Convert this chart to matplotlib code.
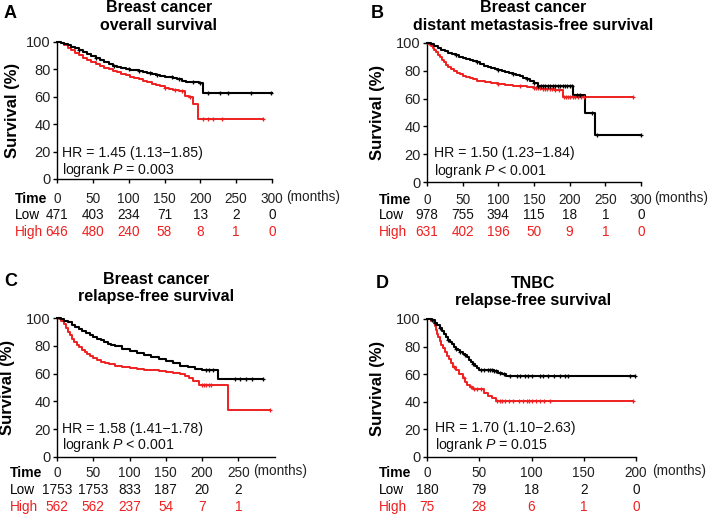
import numpy as np
import matplotlib
matplotlib.use("Agg")
import matplotlib.pyplot as plt
from matplotlib.transforms import blended_transform_factory

plt.rcParams['font.family'] = ['Liberation Sans', 'DejaVu Sans']
plt.rcParams['mathtext.fontset'] = 'custom'
plt.rcParams['mathtext.rm'] = 'Liberation Sans'
plt.rcParams['mathtext.it'] = 'Liberation Sans:italic'

RED = '#ee2020'
BLACK = '#000000'

# ---------------- Panel A: Breast cancer overall survival ----------------
a_low_t = [0, 5, 10, 15, 20, 25, 30, 36, 42, 48, 54, 60, 66, 72, 78, 84, 90, 96, 102, 108, 114,
           120, 126, 132, 138, 144, 150, 156, 162, 168, 174, 180, 186, 192, 198, 204]
a_low_s = [100, 99.6, 98.8, 97.5, 96.5, 95.4, 94.2, 92.8, 91.5, 90, 88.6, 87.2, 85.6, 84, 82.8, 81.6,
           81, 80.3, 79.6, 79.2, 78.5, 78, 77.2, 76.6, 76, 75.5, 74.8, 74.2, 73.5, 72.8, 71.5, 70.8,
           70.5, 70.5, 70.3, 62.5]
a_low_end = 300
a_low_cens = [30, 55, 80, 100, 115, 130, 140, 160, 170, 190, 200, 211, 227, 239, 271, 299]
a_high_t = [0, 5, 10, 15, 20, 25, 30, 36, 42, 48, 54, 60, 66, 72, 78, 84, 90, 96, 102, 108, 114,
            120, 126, 132, 138, 144, 150, 156, 162, 170, 178, 184, 190, 197]
a_high_s = [100, 99.2, 97.8, 95.6, 93.8, 92, 90.2, 88.5, 86.8, 85.2, 83.8, 82.6, 81.2, 80, 78.8,
            77.8, 76.8, 75.6, 74.8, 73.9, 72.8, 71.8, 70.6, 69.6, 68.4, 67.6, 66.2, 65.6, 65,
            64.5, 60.3, 60, 55, 44]
a_high_end = 287
a_high_cens = [150, 165, 175, 185, 204, 211, 218, 230, 287]
a_times = [0, 50, 100, 150, 200, 250, 300]
a_low_n = [471, 403, 234, 71, 13, 2, 0]
a_high_n = [646, 480, 240, 58, 8, 1, 0]

# ---------------- Panel B: distant metastasis-free survival ----------------
b_low_t = [0, 5, 10, 15, 20, 25, 30, 35, 40, 45, 50, 55, 60, 65, 70, 75, 80, 85, 90, 95, 100,
           105, 110, 115, 120, 125, 130, 135, 140, 145, 150, 155, 205, 222, 235]
b_low_s = [100, 99, 97.8, 96.5, 95.2, 94, 93, 92, 91.2, 90.2, 89.2, 88.4, 87.8, 87, 86, 84.8,
           83.6, 82.6, 81.8, 81.2, 80.6, 79.8, 79, 78.4, 77.6, 76.8, 76, 75, 73.8, 72.6, 71,
           69.3, 62.4, 50, 33.8]
b_low_end = 300
b_low_cens = [40, 70, 100, 120, 140, 150, 155, 160, 163, 166, 170, 173, 176, 180, 183, 186,
              190, 193, 196, 200, 203, 210, 214, 232, 238, 300]
b_high_t = [0, 2, 4, 6, 8, 10, 12, 15, 18, 21, 24, 27, 30, 34, 38, 42, 46, 50, 55, 60, 65, 70,
            76, 82, 90, 100, 110, 120, 130, 140, 150, 160, 170, 180, 191]
b_high_s = [100, 99.5, 98.8, 97.8, 96.5, 95, 93.6, 91.6, 89.6, 87.8, 86, 84.4, 83, 81.3, 79.8,
            78.6, 77.5, 76.6, 75.5, 74.6, 73.8, 73, 72.4, 71.9, 71.2, 70.4, 69.8, 69.2, 68.8,
            68.2, 67.8, 67.2, 66.8, 66.4, 61]
b_high_end = 289
b_high_cens = [100, 130, 150, 153, 156, 159, 162, 165, 168, 172, 175, 180, 185, 192, 195, 198,
               201, 204, 208, 212, 216, 220, 289]
b_times = [0, 50, 100, 150, 200, 250, 300]
b_low_n = [978, 755, 394, 115, 18, 1, 0]
b_high_n = [631, 402, 196, 50, 9, 1, 0]

# ---------------- Panel C: relapse-free survival ----------------
c_low_t = [0, 5, 10, 15, 20, 25, 30, 35, 40, 45, 50, 55, 60, 65, 70, 75, 80, 90, 100, 110, 120,
           130, 140, 150, 160, 170, 180, 190, 200, 222]
c_low_s = [100, 99.3, 98.2, 96.8, 95.3, 93.8, 92.3, 90.7, 89.2, 87.8, 86.5, 85.2, 84, 82.8, 81.6,
           80.6, 79.6, 77.8, 76.2, 74.6, 73.2, 72, 70.6, 69.2, 67.6, 65.8, 64.6, 63.3, 62.8, 56]
c_low_end = 284
c_low_cens = [205, 210, 215, 245, 252, 260, 269, 284]
c_high_t = [0, 3, 6, 9, 12, 15, 18, 21, 24, 27, 30, 34, 38, 42, 46, 50, 55, 60, 66, 72, 80, 90,
            100, 110, 120, 130, 140, 150, 160, 170, 176, 182, 188, 196, 236]
c_high_s = [100, 99, 97.5, 95.5, 93, 90.2, 87.5, 85, 82.8, 80.8, 79, 77, 75.3, 73.8, 72.4, 71,
            69.6, 68.4, 67.4, 66.6, 65.8, 65, 64.2, 63.6, 62.9, 62.3, 61.6, 60.8, 60.1, 59.4, 58,
            56.5, 55, 51.8, 33.6]
c_high_end = 294
c_high_cens = [200, 203, 206, 209, 213, 294]
c_times = [0, 50, 100, 150, 200, 250]
c_low_n = [1753, 1753, 833, 187, 20, 2]
c_high_n = [562, 562, 237, 54, 7, 1]

# ---------------- Panel D: TNBC relapse-free survival ----------------
d_low_t = [0, 5, 8, 10, 12, 14, 16, 18, 20, 22, 24, 26, 28, 30, 32, 34, 36, 38, 40, 42, 44, 46,
           48, 50, 56, 64, 68, 72, 76]
d_low_s = [100, 99.4, 97.3, 95.6, 93.3, 91, 89.4, 87.2, 85, 83.3, 81.7, 80, 78.3, 77.2, 76.1, 75,
           73.9, 72.2, 70.6, 68.9, 67.2, 65.6, 64.4, 62.8, 62.8, 62.2, 61.1, 60, 58.9]
d_low_end = 199
d_low_cens = [5, 8, 12, 20, 28, 32, 36, 44, 52, 55, 58, 60, 62, 64, 66, 70, 74, 79, 86, 89, 94,
              97, 100, 108, 111, 116, 122, 127, 132, 135, 194, 199]
d_high_t = [0, 4, 7, 8, 9, 10, 11, 12, 13, 15, 17, 19, 21, 23, 25, 28, 31, 34, 36, 38, 41, 44,
            50, 55, 58, 62, 66]
d_high_s = [100, 98.7, 97.3, 94.6, 92, 89.3, 86.7, 84, 81.3, 78.7, 76, 73.3, 70.7, 68, 65.3,
            62.7, 60, 57.3, 54.7, 52, 50.7, 49.3, 49.3, 46.7, 44, 42.7, 40.4]
d_high_end = 197
d_high_cens = [26, 35, 42, 45, 48, 52, 67, 70, 72, 75, 78, 82, 88, 92, 96, 98, 100, 104, 108,
               112, 118, 197]
d_times = [0, 50, 100, 150, 200]
d_low_n = [180, 79, 18, 2, 0]
d_high_n = [75, 28, 6, 1, 0]

W, H = 709, 515
fig = plt.figure(figsize=(W / 100, H / 100), dpi=100)

ROW_FS = 9.8


def fx(x):
    return x / W


def fy(y):
    return 1 - y / H


def draw_curve(ax, t, s, end, cens, color, lw):
    tt = np.append(np.array(t, float), end)
    ss = np.append(np.array(s, float), s[-1])
    ax.step(tt, ss, where='post', color=color, lw=lw, clip_on=False, zorder=3)
    c = np.array(cens, float)
    idx = np.searchsorted(np.array(t, float), c, side='right') - 1
    ax.plot(c, np.array(s, float)[idx], ls='none', marker='+', ms=3.5, mew=0.9,
            color=color, clip_on=False, zorder=4)


def panel(box, xmax, xticks, letter, letter_xy, title_lines, title_x, title_ys,
          ylabel_x, low, high, times, low_n, high_n, row_x, row_ys, months_x,
          hr_text, p_text, hr_x, hr_ys):
    l, r, t, b = box
    ax = fig.add_axes([fx(l), fy(b), fx(r - l), (b - t) / H])
    draw_curve(ax, *high, RED, 1.4)
    draw_curve(ax, *low, BLACK, 1.5)
    ax.set_xlim(0, xmax)
    ax.set_ylim(0, 100)
    ax.set_yticks([0, 20, 40, 60, 80, 100])
    ax.set_xticks(xticks)
    ax.set_xticklabels([])
    for sp in ['top', 'right']:
        ax.spines[sp].set_visible(False)
    for sp in ['left', 'bottom']:
        ax.spines[sp].set_linewidth(1.0)
    ax.tick_params(axis='both', direction='out', length=3, width=1.0,
                   labelsize=10.5, labelcolor='#222222', pad=1.5)
    # panel letter and title
    fig.text(fx(letter_xy[0]), fy(letter_xy[1]), letter, fontsize=13, fontweight='bold',
             ha='left', va='center')
    for line, ty in zip(title_lines, title_ys):
        fig.text(fx(title_x), fy(ty), line, fontsize=11.5, fontweight='bold',
                 ha='center', va='center')
    fig.text(fx(ylabel_x), fy((t + b) / 2), 'Survival (%)', fontsize=12, fontweight='bold',
             rotation=90, ha='center', va='center')
    # HR annotation
    fig.text(fx(hr_x), fy(hr_ys[0]), hr_text, fontsize=10.2, ha='left', va='center',
             color='#111111')
    fig.text(fx(hr_x), fy(hr_ys[1]), p_text, fontsize=10.2, ha='left', va='center',
             color='#111111')
    # number-at-risk table
    tr = blended_transform_factory(ax.transData, fig.transFigure)
    fig.text(fx(row_x), fy(row_ys[0]), 'Time', fontsize=ROW_FS + 0.3, fontweight='bold',
             ha='left', va='center')
    fig.text(fx(row_x), fy(row_ys[1]), 'Low', fontsize=ROW_FS, ha='left', va='center')
    fig.text(fx(row_x), fy(row_ys[2]), 'High', fontsize=ROW_FS, ha='left', va='center', color=RED)
    for tm, nl, nh in zip(times, low_n, high_n):
        ax.text(tm, fy(row_ys[0]), str(tm), transform=tr, fontsize=ROW_FS, ha='center',
                va='center', color='#222222')
        ax.text(tm, fy(row_ys[1]), str(nl), transform=tr, fontsize=ROW_FS, ha='center',
                va='center', color='#111111')
        ax.text(tm, fy(row_ys[2]), str(nh), transform=tr, fontsize=ROW_FS, ha='center',
                va='center', color=RED)
    fig.text(fx(months_x), fy(row_ys[0] - 2), '(months)', fontsize=9.8, ha='left',
             va='center', color='#222222')
    return ax


panel((57, 272, 42, 179), 300, a_times, 'A', (4, 14), ['Breast cancer', 'overall survival'],
      159, (8, 25), 12,
      (a_low_t, a_low_s, a_low_end, a_low_cens), (a_high_t, a_high_s, a_high_end, a_high_cens),
      a_times, a_low_n, a_high_n, 15, (199, 215, 232), 286,
      'HR = 1.45 (1.13\u22121.85)', r'logrank $P$ = 0.003', 62, (153, 170))

panel((427, 641, 43, 182), 300, b_times, 'B', (371, 14),
      ['Breast cancer', 'distant metastasis-free survival'],
      533, (8, 25), 378,
      (b_low_t, b_low_s, b_low_end, b_low_cens), (b_high_t, b_high_s, b_high_end, b_high_cens),
      b_times, b_low_n, b_high_n, 379, (200, 215, 232), 654,
      'HR = 1.50 (1.23\u22121.84)', r'logrank $P$ < 0.001', 434, (153, 171))

panel((57, 274.5, 318, 457), 300, c_times, 'C', (4, 281),
      ['Breast cancer', 'relapse-free survival'],
      156, (279, 296), 8,
      (c_low_t, c_low_s, c_low_end, c_low_cens), (c_high_t, c_high_s, c_high_end, c_high_cens),
      c_times, c_low_n, c_high_n, 10, (473, 490, 507), 253,
      'HR = 1.58 (1.41\u22121.78)', r'logrank $P$ < 0.001', 62, (429, 445))

panel((427, 636, 319, 457), 200, d_times, 'D', (376, 284),
      ['TNBC', 'relapse-free survival'],
      533, (284, 301), 378,
      (d_low_t, d_low_s, d_low_end, d_low_cens), (d_high_t, d_high_s, d_high_end, d_high_cens),
      d_times, d_low_n, d_high_n, 379, (473, 490, 507), 652,
      'HR = 1.70 (1.10\u22122.63)', r'logrank $P$ = 0.015', 435, (428, 445))

fig.savefig('out.png', dpi=100)
